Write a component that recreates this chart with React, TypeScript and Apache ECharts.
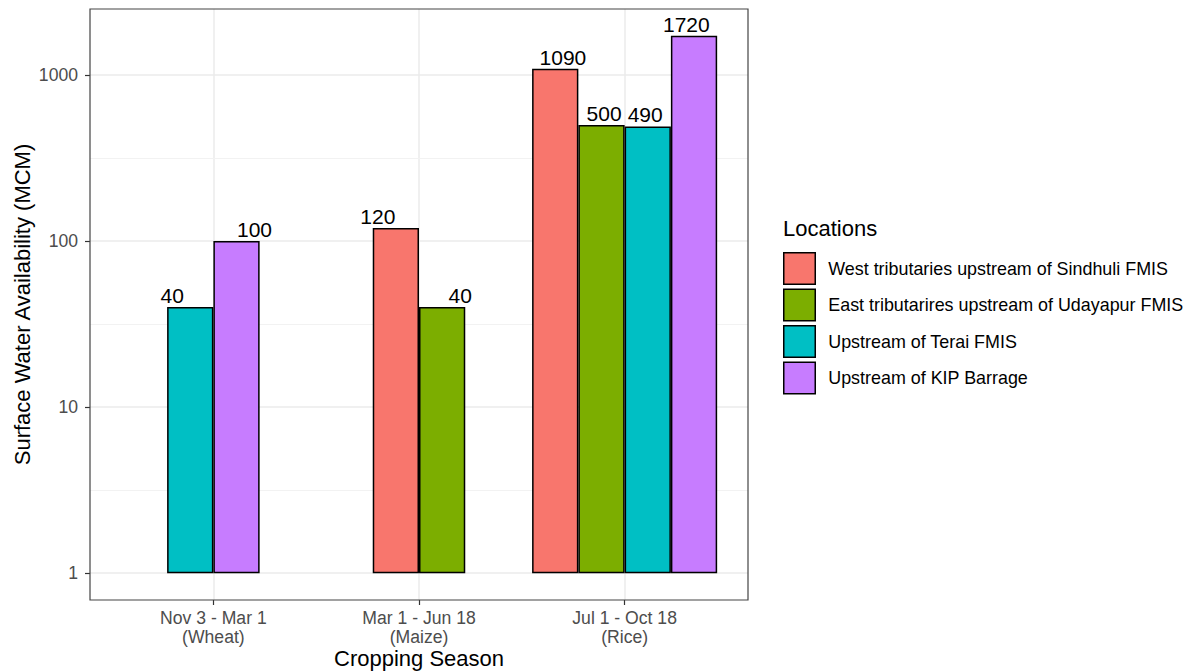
import React, { useEffect, useRef } from "react";
import * as echarts from "echarts";

const seasons = ["Nov 3 - Mar 1", "Mar 1 - Jun 18", "Jul 1 - Oct 18"];
const crops = ["Wheat", "Maize", "Rice"];
const locations = [
  "West tributaries upstream of Sindhuli FMIS",
  "East tributarires upstream of Udayapur FMIS",
  "Upstream of Terai FMIS",
  "Upstream of KIP Barrage",
];
const westSindhuli: (number | null)[] = [null, 120, 1090];
const eastUdayapur: (number | null)[] = [null, 40, 500];
const upstreamTerai: (number | null)[] = [40, null, 490];
const upstreamKIP: (number | null)[] = [100, null, 1720];
const yTicks = [1, 10, 100, 1000];
const yMinorBreaks = [3.1623, 31.623, 316.23];
const yMin = 0.6892;
const yMax = 2496;
const colors = ["#F8766D", "#7CAE00", "#00BFC4", "#C77CFF"];

const FONT = "'Liberation Sans', Arial, Helvetica, sans-serif";

export default function App() {
  const ref = useRef<HTMLDivElement>(null);
  useEffect(() => {
    document.body.style.margin = "0";
    if (!ref.current) return;
    const chart = echarts.init(ref.current, null, { renderer: "svg" });

    const panelLeft = 90;
    const panelTop = 9;
    const panelW = 658;
    const panelH = 591;
    const unit = panelW / 3.2;
    const bandPx = unit;
    const innerLeft = panelLeft + 0.6 * unit;
    const innerW = 2 * unit;

    const values = [westSindhuli, eastUdayapur, upstreamTerai, upstreamKIP];
    const nSlots = 4;
    const slotData: any[][] = Array.from({ length: nSlots }, () => seasons.map(() => "-"));
    seasons.forEach((_, c) => {
      const present = values.map((v, l) => (v[c] != null ? l : -1)).filter((l) => l >= 0);
      const n = present.length;
      const start = (nSlots - n) / 2;
      present.forEach((l, i) => {
        const off = (i - (n - 1) / 2) * (0.8 / n - 0.9 / nSlots) * bandPx;
        slotData[start + i][c] = {
          value: values[l][c],
          itemStyle: { color: colors[l] },
          label: { offset: [off, 0] },
        };
      });
    });

    const categories = seasons.map((s, i) => `${s}\n(${crops[i]})`);

    const slotSeries = slotData.map((d, s) => ({
      type: "bar",
      name: "slot" + s,
      xAxisIndex: 1,
      yAxisIndex: 1,
      data: d,
      barGap: "0%",
      barCategoryGap: "10%",
      clip: false,
      z: 3,
      itemStyle: { borderColor: "#000", borderWidth: 1.5 },
      label: {
        show: true,
        position: "top",
        distance: 1,
        fontSize: 21,
        color: "#000",
        fontFamily: FONT,
      },
    }));

    const legendSeries = locations.map((name, l) => ({
      type: "bar",
      name,
      xAxisIndex: 0,
      yAxisIndex: 0,
      data: [],
      itemStyle: { color: colors[l], borderColor: "#000", borderWidth: 1.5 },
    }));

    const minorSeries = {
      type: "line",
      name: "minor",
      xAxisIndex: 0,
      yAxisIndex: 0,
      data: [],
      z: 0,
      markLine: {
        silent: true,
        z: 0,
        symbol: "none",
        label: { show: false },
        lineStyle: { color: "#F2F2F2", width: 1, type: "solid" },
        data: yMinorBreaks.map((v) => ({ yAxis: v })),
      },
    };

    const yAxisCommon = (gridIndex: number, visible: boolean) => ({
      type: "log",
      logBase: 10,
      min: yMin,
      max: yMax,
      gridIndex,
      axisLine: { show: false },
      axisTick: {
        show: visible,
        length: 5,
        customValues: yTicks,
        lineStyle: { color: "#333", width: 1.2 },
      },
      axisLabel: {
        show: visible,
        customValues: yTicks,
        color: "#4D4D4D",
        fontSize: 17.6,
        margin: 12,
        fontFamily: FONT,
        formatter: (v: number) => String(Math.round(v)),
      },
      splitLine: { show: visible, lineStyle: { color: "#EBEBEB", width: 1.5 } },
    });

    chart.setOption({
      animation: false,
      backgroundColor: "#fff",
      textStyle: { fontFamily: FONT },
      grid: [
        {
          left: panelLeft,
          top: panelTop,
          width: panelW,
          height: panelH,
          show: true,
          borderColor: "#444",
          borderWidth: 1.2,
          backgroundColor: "transparent",
          containLabel: false,
          outerBoundsMode: "none",
          z: 1,
        },
        {
          left: innerLeft,
          top: panelTop,
          width: innerW,
          height: panelH,
          containLabel: false,
          outerBoundsMode: "none",
        },
      ],
      xAxis: [
        {
          gridIndex: 0,
          type: "value",
          min: 0,
          max: 1,
          show: false,
        },
        {
          gridIndex: 1,
          type: "category",
          boundaryGap: false,
          data: categories,
          axisLine: { show: false },
          axisTick: { show: true, length: 5, lineStyle: { color: "#333", width: 1.2 } },
          splitLine: { show: true, lineStyle: { color: "#EBEBEB", width: 1.5 } },
          axisLabel: {
            color: "#4D4D4D",
            fontSize: 17.6,
            lineHeight: 19,
            margin: 8,
            fontFamily: FONT,
          },
          name: "Cropping Season",
          nameLocation: "middle",
          nameGap: 47,
          nameMoveOverlap: false,
          nameTextStyle: { fontSize: 22, color: "#000", fontFamily: FONT },
        },
      ],
      yAxis: [
        {
          ...yAxisCommon(0, true),
          name: "Surface Water Availability (MCM)",
          nameLocation: "middle",
          nameGap: 57,
          nameMoveOverlap: false,
          nameTextStyle: { fontSize: 22, color: "#000", fontFamily: FONT },
        },
        yAxisCommon(1, false),
      ],
      legend: {
        data: locations,
        orient: "vertical",
        left: 783,
        top: 252,
        padding: 0,
        itemWidth: 31.5,
        itemHeight: 31.5,
        itemGap: 3.5,
        icon: "rect",
        selectedMode: false,
        itemStyle: { borderColor: "#000", borderWidth: 1.5 },
        textStyle: {
          fontSize: 17.9,
          color: "#000",
          fontFamily: FONT,
          padding: [0, 0, 0, 8],
        },
      },
      graphic: [
        {
          type: "text",
          left: 783,
          top: 217,
          style: { text: "Locations", fontSize: 22, fill: "#000", fontFamily: FONT },
        },
      ],
      series: [minorSeries, ...legendSeries, ...slotSeries],
    });

    return () => chart.dispose();
  }, []);

  return <div ref={ref} style={{ width: 1187, height: 672 }} />;
}
